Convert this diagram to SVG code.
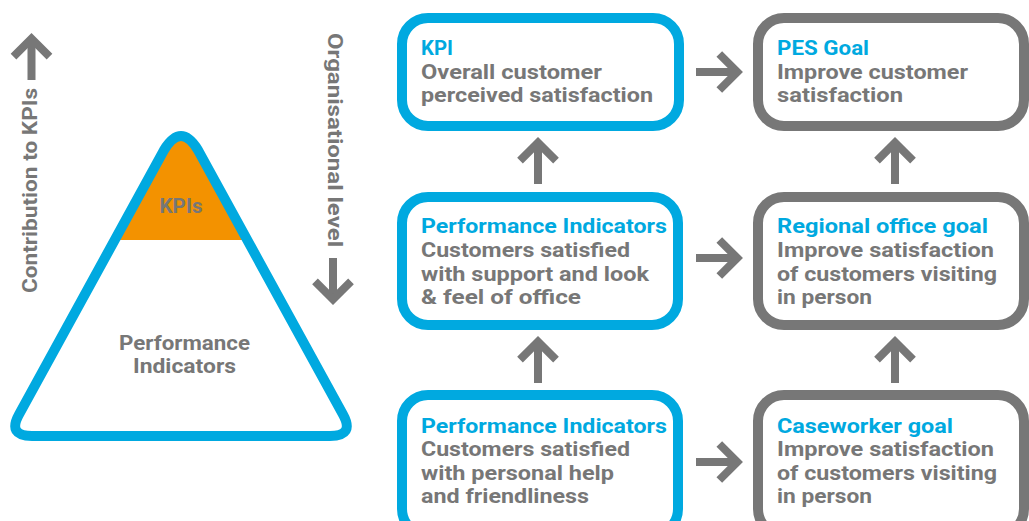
<svg xmlns="http://www.w3.org/2000/svg" xmlns:xlink="http://www.w3.org/1999/xlink" width="1029" height="521" viewBox="0 0 1029 521">
  <style>
    text { font-family: Roboto, "Liberation Sans", Arial, sans-serif; font-weight: bold; font-size: 20px; }
    .grey { fill: #777777; }
    .blue { fill: #00A9E0; }
    .box-blue { fill: #ffffff; stroke: #00A9E0; stroke-width: 10; }
    .box-grey { fill: #ffffff; stroke: #777777; stroke-width: 10; }
    .arrow { fill: none; stroke: #777777; stroke-width: 8; stroke-linejoin: miter; stroke-linecap: butt; }
  </style>
  <defs>
    <!-- open chevron arrow, tip at origin, pointing right -->
    <g id="arrow-right">
      <path class="arrow" d="M-47,0 L-6,0"/>
      <path class="arrow" d="M-23.7,-18 L-5.7,0 L-23.7,18"/>
    </g>
    <clipPath id="tri-clip">
      <path d="M164,150.2 Q181,122 198,150.2 L342.8,414.1 Q355,436 330,436 L32,436 Q7,436 19.2,414.1 Z"/>
    </clipPath>
  </defs>

  <rect width="1029" height="521" fill="#ffffff"/>

  <!-- pyramid -->
  <g id="pyramid">
    <rect x="0" y="100" width="360" height="140" fill="#F39200" clip-path="url(#tri-clip)"/>
    <path d="M164,150.2 Q181,122 198,150.2 L342.8,414.1 Q355,436 330,436 L32,436 Q7,436 19.2,414.1 Z" fill="none" stroke="#00A9E0" stroke-width="10" stroke-linejoin="round"/>
    <text class="grey" x="181" y="213" text-anchor="middle" textLength="43" lengthAdjust="spacingAndGlyphs">KPIs</text>
    <text class="grey" x="184.5" y="350" text-anchor="middle" textLength="131" lengthAdjust="spacingAndGlyphs">Performance</text>
    <text class="grey" x="184.5" y="373" text-anchor="middle" textLength="103" lengthAdjust="spacingAndGlyphs">Indicators</text>
  </g>

  <!-- side axes -->
  <g id="axis-contribution">
    <use xlink:href="#arrow-right" transform="translate(31.5,33) rotate(-90)"/>
    <text class="grey" transform="translate(37,293) rotate(-90)" font-size="21" textLength="205" lengthAdjust="spacingAndGlyphs">Contribution to KPIs</text>
  </g>
  <g id="axis-level">
    <use xlink:href="#arrow-right" transform="translate(333,305) rotate(90)"/>
    <text class="grey" transform="translate(328,33) rotate(90)" font-size="21" textLength="214" lengthAdjust="spacingAndGlyphs">Organisational level</text>
  </g>

  <!-- nodes -->
  <g id="kpi">
    <rect class="box-blue" x="402" y="18" width="277" height="108" rx="26"/>
    <text class="blue" x="421" y="55" textLength="32" lengthAdjust="spacingAndGlyphs">KPI</text>
    <text class="grey" x="421" y="79" textLength="181" lengthAdjust="spacingAndGlyphs">Overall customer</text>
    <text class="grey" x="421" y="102" textLength="232" lengthAdjust="spacingAndGlyphs">perceived satisfaction</text>
  </g>
  <g id="pes-goal">
    <rect class="box-grey" x="758" y="18" width="266" height="108" rx="26"/>
    <text class="blue" x="777" y="55" textLength="92" lengthAdjust="spacingAndGlyphs">PES Goal</text>
    <text class="grey" x="777" y="79" textLength="191" lengthAdjust="spacingAndGlyphs">Improve customer</text>
    <text class="grey" x="777" y="102" textLength="126" lengthAdjust="spacingAndGlyphs">satisfaction</text>
  </g>
  <g id="pi-office">
    <rect class="box-blue" x="402" y="197" width="276" height="128" rx="26"/>
    <text class="blue" x="421" y="233" textLength="246" lengthAdjust="spacingAndGlyphs">Performance Indicators</text>
    <text class="grey" x="421" y="257" textLength="209" lengthAdjust="spacingAndGlyphs">Customers satisfied</text>
    <text class="grey" x="421" y="281" textLength="228" lengthAdjust="spacingAndGlyphs">with support and look</text>
    <text class="grey" x="421" y="304" textLength="160" lengthAdjust="spacingAndGlyphs">&amp; feel of office</text>
  </g>
  <g id="regional-goal">
    <rect class="box-grey" x="758" y="197" width="266" height="128" rx="26"/>
    <text class="blue" x="777" y="233" textLength="211" lengthAdjust="spacingAndGlyphs">Regional office goal</text>
    <text class="grey" x="777" y="257" textLength="217" lengthAdjust="spacingAndGlyphs">Improve satisfaction</text>
    <text class="grey" x="777" y="281" textLength="220" lengthAdjust="spacingAndGlyphs">of customers visiting</text>
    <text class="grey" x="777" y="304" textLength="95" lengthAdjust="spacingAndGlyphs">in person</text>
  </g>
  <g id="pi-personal">
    <rect class="box-blue" x="402" y="395" width="276" height="140" rx="26"/>
    <text class="blue" x="421" y="433" textLength="246" lengthAdjust="spacingAndGlyphs">Performance Indicators</text>
    <text class="grey" x="421" y="456" textLength="209" lengthAdjust="spacingAndGlyphs">Customers satisfied</text>
    <text class="grey" x="421" y="480" textLength="193" lengthAdjust="spacingAndGlyphs">with personal help</text>
    <text class="grey" x="421" y="503" textLength="168" lengthAdjust="spacingAndGlyphs">and friendliness</text>
  </g>
  <g id="caseworker-goal">
    <rect class="box-grey" x="758" y="395" width="266" height="140" rx="26"/>
    <text class="blue" x="777" y="433" textLength="176" lengthAdjust="spacingAndGlyphs">Caseworker goal</text>
    <text class="grey" x="777" y="456" textLength="217" lengthAdjust="spacingAndGlyphs">Improve satisfaction</text>
    <text class="grey" x="777" y="480" textLength="220" lengthAdjust="spacingAndGlyphs">of customers visiting</text>
    <text class="grey" x="777" y="503" textLength="95" lengthAdjust="spacingAndGlyphs">in person</text>
  </g>

  <!-- connectors -->
  <g id="connectors">
    <use xlink:href="#arrow-right" transform="translate(743,72)"/>
    <use xlink:href="#arrow-right" transform="translate(743,258)"/>
    <use xlink:href="#arrow-right" transform="translate(743,462)"/>
    <use xlink:href="#arrow-right" transform="translate(538,137) rotate(-90)"/>
    <use xlink:href="#arrow-right" transform="translate(895,137) rotate(-90)"/>
    <use xlink:href="#arrow-right" transform="translate(538,336) rotate(-90)"/>
    <use xlink:href="#arrow-right" transform="translate(895,336) rotate(-90)"/>
  </g>
</svg>
